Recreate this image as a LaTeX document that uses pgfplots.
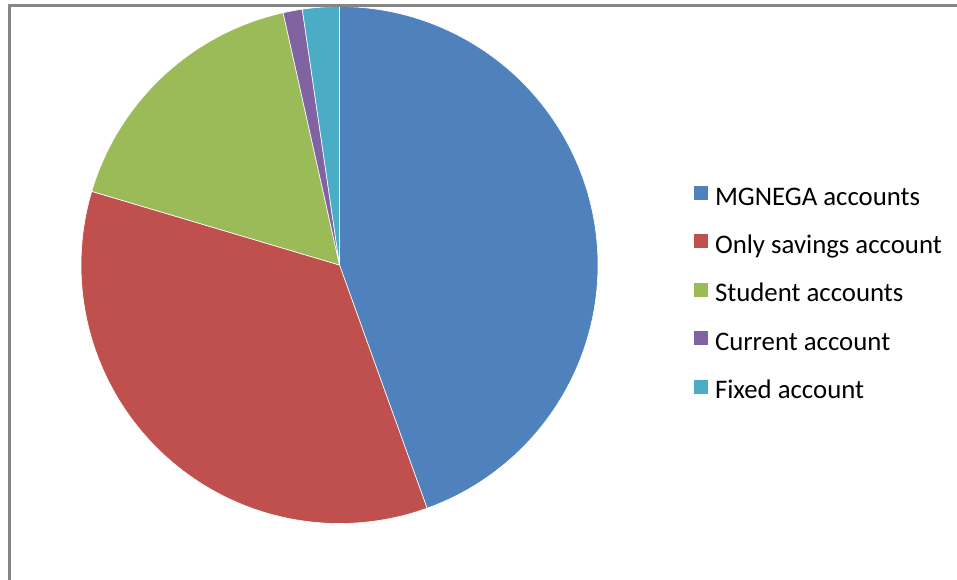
\documentclass[border=0pt]{standalone}
\usepackage{pgfplots}
\pgfplotsset{compat=1.18}
\usepackage{fontspec}
\setmainfont{Carlito}
\definecolor{cblue}{HTML}{4F81BD}
\definecolor{cred}{HTML}{C0504D}
\definecolor{cgreen}{HTML}{9BBB59}
\definecolor{cpurple}{HTML}{8064A2}
\definecolor{ccyan}{HTML}{4BACC6}
\definecolor{cborder}{RGB}{134,134,134}
% slice shares in percent (clockwise from 12 o'clock)
\def\vA{44.5}% MGNEGA accounts
\def\vB{35.1}% Only savings account
\def\vC{16.9}% Student accounts
\def\vD{1.2}%  Current account
\def\vE{2.3}%  Fixed account
\pgfmathsetmacro\aA{0}
\pgfmathsetmacro\aB{3.6*\vA}
\pgfmathsetmacro\aC{3.6*(\vA+\vB)}
\pgfmathsetmacro\aD{3.6*(\vA+\vB+\vC)}
\pgfmathsetmacro\aE{3.6*(\vA+\vB+\vC+\vD)}
\pgfmathsetmacro\aF{3.6*(\vA+\vB+\vC+\vD+\vE)}
\def\cx{339.5}
\def\cy{265}
\def\R{258.5}
\begin{document}
\begin{tikzpicture}
\begin{axis}[
  at={(0,0)}, anchor=north west,
  scale only axis, width=957bp, height=580bp,
  xmin=0, xmax=957, ymin=0, ymax=580, y dir=reverse,
  hide axis, clip=false,
  legend style={draw=none, fill=none, inner sep=0pt, outer sep=0pt,
    at={(axis cs:694,186)}, anchor=north west,
    font=\fontsize{26.8bp}{30bp}\selectfont,
    nodes={inner xsep=0pt, inner ysep=0pt, text height=18bp, text depth=6bp},
    row sep=23.4bp, column sep=7bp},
  legend cell align=left,
  legend image code/.code={\fill[#1,draw=none] (0bp,-1bp) rectangle (14bp,13bp);},
]
\addplot[fill=cblue, draw=white, line width=0.6bp, domain=\aA:\aB, samples=120]
  ({\cx+\R*sin(x)},{\cy-\R*cos(x)}) -- (axis cs:\cx,\cy) -- cycle;
\addlegendentry{MGNEGA accounts}
\addplot[fill=cred, draw=white, line width=0.6bp, domain=\aB:\aC, samples=100]
  ({\cx+\R*sin(x)},{\cy-\R*cos(x)}) -- (axis cs:\cx,\cy) -- cycle;
\addlegendentry{Only savings account}
\addplot[fill=cgreen, draw=white, line width=0.6bp, domain=\aC:\aD, samples=60]
  ({\cx+\R*sin(x)},{\cy-\R*cos(x)}) -- (axis cs:\cx,\cy) -- cycle;
\addlegendentry{Student accounts}
\addplot[fill=cpurple, draw=white, line width=0.6bp, domain=\aD:\aE, samples=10]
  ({\cx+\R*sin(x)},{\cy-\R*cos(x)}) -- (axis cs:\cx,\cy) -- cycle;
\addlegendentry{Current account}
\addplot[fill=ccyan, draw=white, line width=0.6bp, domain=\aE:\aF, samples=12]
  ({\cx+\R*sin(x)},{\cy-\R*cos(x)}) -- (axis cs:\cx,\cy) -- cycle;
\addlegendentry{Fixed account}
\end{axis}
\draw[cborder, line width=2.5bp] (9.5bp,-5.3bp) rectangle (1100bp,-700bp);
\pgfresetboundingbox
\path[use as bounding box] (0,0) rectangle (957bp,-580bp);
\end{tikzpicture}
\end{document}
